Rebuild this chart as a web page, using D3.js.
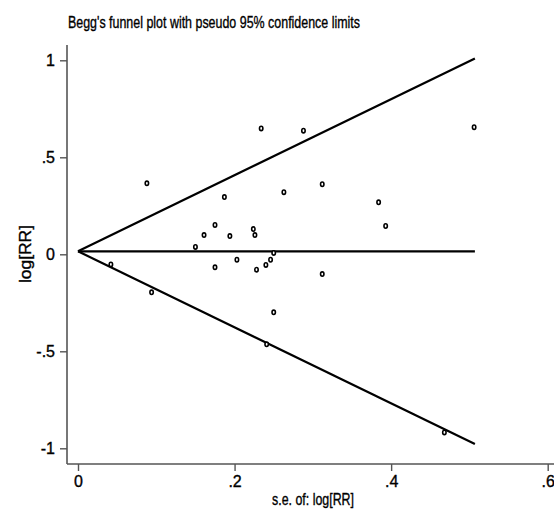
<!DOCTYPE html>
<html><head><meta charset="utf-8">
<script src="https://cdn.jsdelivr.net/npm/d3@7"></script>
<style>
body{margin:0;background:#fff;}
text{font-family:"Liberation Sans Narrow","Arial Narrow","Liberation Sans",Arial,sans-serif;fill:#000;stroke:#000;stroke-width:0.35px;}
</style></head>
<body><svg id="c" width="554" height="509"></svg>
<script>
const se    = [0.088,0.187,0.175,0.161,0.194,0.150,0.042,0.203,0.175,0.094,
               0.234,0.288,0.263,0.312,0.384,0.393,0.224,0.226,0.250,0.246,
               0.240,0.228,0.312,0.250,0.241,0.468,0.506];
const logrr = [0.366,0.295,0.151,0.099,0.094,0.038,-0.052,-0.028,-0.067,-0.196,
               0.649,0.637,0.320,0.361,0.268,0.146,0.130,0.099,0.007,-0.028,
               -0.055,-0.079,-0.102,-0.299,-0.464,-0.918,0.655];
const pooled = 0.0155;
const seMax = 0.507;
const xTicks = [0,0.2,0.4,0.6];
const xTickLabels = ["0",".2",".4",".6"];
const yTicks = [-1,-0.5,0,0.5,1];
const yTickLabels = ["-1","-.5","0",".5","1"];
const title = "Begg's funnel plot with pseudo 95% confidence limits";
const xLabel = "s.e. of: log[RR]";
const yLabel = "log[RR]";

const svg = d3.select("#c");
const x = d3.scaleLinear().domain([0,0.6]).range([78,547.7]);
const y = d3.scaleLinear().domain([-1,1]).range([448.3,60.3]);
const axisColor = "#555";
const axX = 67, axY = 464;

// axis lines
svg.append("line").attr("x1",axX).attr("x2",axX).attr("y1",45).attr("y2",axY)
  .attr("stroke",axisColor).attr("stroke-width",1.6);
svg.append("line").attr("x1",axX).attr("x2",554).attr("y1",axY).attr("y2",axY)
  .attr("stroke",axisColor).attr("stroke-width",1.6);

// y axis
const ya = svg.append("g").attr("transform",`translate(${axX},0)`)
  .call(d3.axisLeft(y).tickValues(yTicks).tickFormat((d,i)=>yTickLabels[i]).tickSize(7).tickPadding(5));
ya.select(".domain").remove();
ya.selectAll("line").attr("stroke",axisColor).attr("stroke-width",1.4);
ya.selectAll("text").attr("font-size",16).attr("dy","0.35em").attr("fill","#000")
  .attr("font-family","Liberation Sans Narrow, Liberation Sans, sans-serif");

// x axis
const xa = svg.append("g").attr("transform",`translate(0,${axY})`)
  .call(d3.axisBottom(x).tickValues(xTicks).tickFormat((d,i)=>xTickLabels[i]).tickSize(7).tickPadding(4));
xa.select(".domain").remove();
xa.selectAll("line").attr("stroke",axisColor).attr("stroke-width",1.4);
xa.selectAll("text").attr("font-size",16).attr("dy","0.75em").attr("fill","#000")
  .attr("font-family","Liberation Sans Narrow, Liberation Sans, sans-serif");

// funnel lines
const lineGen = d3.line().x(d=>x(d[0])).y(d=>y(d[1]));
const upper = [[0,pooled],[seMax,pooled+1.96*seMax]];
const lower = [[0,pooled],[seMax,pooled-1.96*seMax]];
const mid = [[0,pooled],[seMax,pooled]];
[upper,lower,mid].forEach(p=>{
  svg.append("path").attr("d",lineGen(p)).attr("fill","none")
    .attr("stroke","#000").attr("stroke-width",2.2);
});

// points
svg.append("g").selectAll("ellipse").data(se.map((s,i)=>[s,logrr[i]])).join("ellipse")
  .attr("cx",d=>x(d[0])).attr("cy",d=>y(d[1])).attr("rx",1.7).attr("ry",2.2)
  .attr("fill","#fff").attr("stroke","#000").attr("stroke-width",1.6);

// title
svg.append("text").attr("x",68).attr("y",28).attr("font-size",17)
  .attr("textLength",292).attr("lengthAdjust","spacingAndGlyphs").text(title);
// x label
svg.append("text").attr("x",272).attr("y",505).attr("font-size",16)
  .attr("textLength",82).attr("lengthAdjust","spacingAndGlyphs").text(xLabel);
// y label
svg.append("text").attr("transform","translate(31,254) rotate(-90)")
  .attr("text-anchor","middle").attr("font-size",17)
  .attr("textLength",58).attr("lengthAdjust","spacingAndGlyphs").text(yLabel);
</script></body></html>
